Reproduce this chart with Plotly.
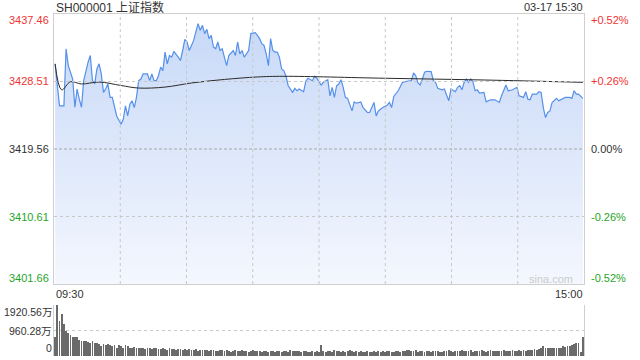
import plotly.graph_objects as go

# ---------------- data ----------------
title_text = "SH000001 上证指数"
date_text = "03-17 15:30"
prev_close = 3419.56
price_ticks = [3401.66, 3410.61, 3419.56, 3428.51, 3437.46]
price_tick_labels = ["3401.66", "3410.61", "3419.56", "3428.51", "3437.46"]
pct_labels = ["-0.52%", "-0.26%", "0.00%", "+0.26%", "+0.52%"]
vol_ticks = [0, 960.28, 1920.56]
vol_labels = ["0", "960.28万", "1920.56万"]
time_labels = ["09:30", "15:00"]
watermark = "sina.com"

price_minutes = [
    0, 2, 4, 5, 6, 8, 9, 10, 11, 12, 13, 14, 15, 16, 17, 18, 19, 20, 21, 22,
    23, 24, 25, 26, 27, 28, 30, 31, 32, 33, 34, 35, 36, 37, 38, 39, 40, 42, 43, 44,
    45, 46, 47, 48, 49, 50, 51, 52, 53, 54, 56, 57, 58, 59, 60, 61, 62, 63, 64, 65,
    66, 67, 68, 69, 70, 71, 72, 73, 74, 75, 76, 77, 78, 79, 81, 82, 83, 84, 85, 86,
    87, 88, 89, 91, 92, 93, 94, 95, 96, 97, 98, 99, 100, 101, 102, 103, 104, 105, 106, 108,
    109, 110, 111, 113, 114, 115, 117, 118, 119, 121, 122, 124, 125, 126, 127, 128, 129, 130, 131, 132,
    133, 135, 136, 137, 139, 140, 142, 143, 145, 146, 147, 149, 151, 152, 153, 154, 156, 157, 158, 160,
    162, 163, 164, 165, 166, 167, 168, 169, 171, 172, 173, 174, 176, 177, 178, 179, 180, 182, 183, 184,
    185, 186, 187, 188, 189, 190, 191, 192, 193, 195, 196, 198, 200, 202, 203, 204, 205, 206, 208, 210,
    211, 213, 214, 215, 216, 217, 219, 220, 221, 222, 223, 224, 225, 226, 228, 229, 231, 232, 234, 235,
    236, 237, 238, 240,
]
price_values = [
    3430.85, 3425.28, 3425.28, 3432.85, 3430.62, 3428.84, 3425.10, 3427.51, 3426.17, 3425.10,
    3428.62, 3429.95, 3431.07, 3431.96, 3428.62, 3428.18, 3430.18, 3430.85, 3429.51, 3427.07,
    3427.51, 3428.18, 3426.40, 3426.40, 3425.06, 3423.94, 3422.83, 3423.50, 3425.28, 3423.94,
    3425.50, 3425.95, 3425.06, 3426.40, 3428.62, 3428.84, 3429.51, 3429.51, 3428.62, 3429.51,
    3428.62, 3428.62, 3429.28, 3430.41, 3429.95, 3432.41, 3430.85, 3431.96, 3431.74, 3432.49,
    3431.74, 3431.29, 3432.62, 3434.09, 3433.75, 3432.62, 3433.29, 3433.96, 3435.08, 3436.19,
    3435.30, 3435.96, 3434.86, 3435.43, 3434.19, 3434.63, 3433.08, 3432.85, 3433.75, 3432.62,
    3432.85, 3431.74, 3430.62, 3431.96, 3432.62, 3431.96, 3433.75, 3432.18, 3432.62, 3431.74,
    3432.18, 3432.62, 3434.86, 3434.99, 3434.63, 3434.19, 3433.52, 3433.29, 3432.18, 3430.62,
    3434.19, 3432.62, 3432.41, 3432.41, 3431.74, 3430.18, 3429.95, 3429.20, 3427.95, 3427.07,
    3427.60, 3427.28, 3427.51, 3427.15, 3428.54, 3428.94, 3428.62, 3429.20, 3428.94, 3428.04,
    3428.40, 3428.75, 3426.61, 3427.74, 3426.40, 3427.95, 3428.18, 3428.75, 3427.74, 3426.40,
    3426.27, 3424.61, 3425.81, 3425.64, 3425.81, 3425.06, 3424.40, 3424.40, 3425.73, 3423.94,
    3424.61, 3425.06, 3425.37, 3425.73, 3425.06, 3426.53, 3427.28, 3427.95, 3428.40, 3428.54,
    3428.62, 3429.65, 3429.28, 3428.31, 3428.04, 3428.84, 3429.74, 3429.87, 3429.82, 3428.62,
    3428.40, 3427.60, 3427.41, 3427.51, 3426.84, 3425.95, 3427.51, 3427.15, 3427.74, 3427.95,
    3427.41, 3428.40, 3428.84, 3428.40, 3428.84, 3428.48, 3427.28, 3427.41, 3426.97, 3427.07,
    3425.81, 3426.08, 3426.08, 3425.73, 3426.61, 3427.28, 3428.04, 3427.28, 3427.41, 3427.74,
    3426.61, 3426.40, 3427.15, 3426.17, 3426.08, 3426.84, 3426.84, 3427.15, 3427.07, 3425.06,
    3423.73, 3424.40, 3424.61, 3425.73, 3426.27, 3425.95, 3426.27, 3426.40, 3426.40, 3426.27,
    3427.28, 3426.84, 3426.84, 3426.27,
]

avg_minutes = [0, 3, 7, 12, 20, 30, 38, 50, 62, 77, 92, 104, 150, 195, 240]
avg_values = [3430.85, 3427.40, 3428.48, 3428.18, 3428.44, 3427.98, 3427.64, 3427.77,
              3428.31, 3428.78, 3429.11, 3429.20, 3428.94, 3428.71, 3428.40]

vol_minutes = list(range(241))
volume = [
    704, 1920.56, 1318, 1575, 1190, 934, 870, 780, 704, 704,
    704, 614, 576, 576, 550, 525, 486, 576, 486, 486,
    448, 358, 448, 422, 448, 422, 358, 397, 320, 422,
    358, 320, 397, 358, 320, 320, 345, 320, 294, 320,
    294, 256, 320, 294, 256, 294, 320, 270, 256, 294,
    256, 230, 294, 270, 256, 230, 256, 270, 230, 256,
    230, 256, 218, 230, 256, 205, 230, 243, 218, 230,
    205, 218, 243, 205, 192, 218, 230, 205, 218, 192,
    166, 205, 218, 192, 205, 230, 179, 192, 166, 205,
    218, 192, 179, 205, 166, 179, 192, 166, 179, 205,
    166, 192, 179, 154, 179, 205, 166, 218, 192, 179,
    192, 205, 166, 192, 179, 154, 166, 192, 154, 179, 166,
    422, 179, 166, 192, 205, 166, 243, 179, 192, 154,
    205, 166, 192, 230, 179, 166, 192, 166, 179, 154,
    166, 179, 166, 154, 192, 166, 179, 154, 205, 166,
    179, 192, 154, 166, 179, 205, 166, 192, 179, 230,
    218, 192, 205, 230, 166, 179, 192, 154, 205, 179,
    166, 192, 205, 179, 154, 166, 192, 179, 218, 192,
    166, 205, 179, 192, 230, 205, 179, 192, 218, 166,
    179, 205, 192, 218, 179, 166, 205, 230, 192, 179,
    192, 205, 179, 218, 192, 205, 179, 218, 192, 205,
    218, 192, 230, 205, 243, 218, 230, 256, 230, 270,
    294, 358, 320, 294, 294, 294, 320, 294, 320, 294,
    358, 345, 358, 384, 422, 448, 473, 480, 154, 704,
]

# ---------------- figure ----------------
W, H = 640, 360
L, R = 54, 584
P_TOP, P_BOT = 14, 284
V_TOP, V_BOT = 305, 356

def px(x):
    return x / W

def py(y):
    return 1 - y / H

FONT = "Liberation Sans, Arial, Helvetica, Noto Sans CJK SC, sans-serif"
RED = "#f03434"
GREEN = "#1fa51f"
DARK = "#333333"
BORDER = "#cfcfcf"

fig = go.Figure()

fig.add_trace(go.Scatter(
    x=price_minutes, y=price_values, mode="lines",
    line=dict(color="#5590ea", width=1.2),
    fill="tozeroy",
    fillgradient=dict(type="vertical",
                      colorscale=[[0, "rgb(244,247,254)"], [1, "rgb(198,216,247)"]],
                      start=price_ticks[0], stop=price_ticks[-1]),
    xaxis="x", yaxis="y", hoverinfo="skip", showlegend=False,
))
fig.add_trace(go.Scatter(
    x=avg_minutes, y=avg_values, mode="lines",
    line=dict(color="#2b2b2b", width=1, shape="spline", smoothing=1.0),
    xaxis="x", yaxis="y", hoverinfo="skip", showlegend=False,
))
fig.add_trace(go.Bar(
    x=vol_minutes, y=volume, width=0.4,
    marker=dict(color="#6a6a6a", line=dict(width=0)),
    xaxis="x2", yaxis="y2", hoverinfo="skip", showlegend=False,
))

axis_common = dict(showgrid=False, zeroline=False, showticklabels=False, ticks="")
fig.update_layout(
    width=W, height=H,
    margin=dict(l=0, r=0, t=0, b=0),
    paper_bgcolor="white", plot_bgcolor="white",
    font=dict(family=FONT, size=11, color=DARK),
    xaxis=dict(domain=[px(L), px(R)], range=[-0.5, 240.5], anchor="y",
               showline=True, mirror=True, linecolor=BORDER, linewidth=1, **axis_common),
    yaxis=dict(domain=[py(P_BOT), py(P_TOP)], range=[price_ticks[0], price_ticks[-1]],
               anchor="x", showline=True, mirror=True, linecolor=BORDER, linewidth=1, **axis_common),
    xaxis2=dict(domain=[px(L), px(R)], range=[-0.5, 240.5], anchor="y2",
                showline=False, **axis_common),
    yaxis2=dict(domain=[py(V_BOT), py(V_TOP)], range=[vol_ticks[0], vol_ticks[-1]],
                anchor="x2", showline=True, mirror=True, linecolor=BORDER, linewidth=1,
                showgrid=True, gridcolor="#c8c8c8", griddash="dot", gridwidth=1,
                tickvals=vol_ticks[1:], zeroline=False, showticklabels=False, ticks=""),
    bargap=0,
)

shapes = []
for k in range(1, 8):
    shapes.append(dict(type="line", xref="x domain", yref="y domain",
                       x0=k / 8, x1=k / 8, y0=0, y1=1,
                       line=dict(color="#c8c8c8", width=1, dash="dot")))
for v in price_ticks[1:-1]:
    is_zero = abs(v - prev_close) < 1e-6
    shapes.append(dict(type="line", xref="x domain", yref="y",
                       x0=0, x1=1, y0=v, y1=v,
                       line=dict(color="#a8a8a8" if is_zero else "#c8c8c8", width=1,
                                 dash="3px,2px" if is_zero else "dot")))
fig.update_layout(shapes=shapes)

ann = []
n = len(price_ticks)
for i, (v, lab, pl) in enumerate(zip(price_ticks, price_tick_labels, pct_labels)):
    if v > prev_close + 1e-6:
        col = RED
    elif v < prev_close - 1e-6:
        col = GREEN
    else:
        col = DARK
    shift = -6 if i == n - 1 else (6 if i == 0 else 0)
    ann.append(dict(x=px(51), xref="paper", xanchor="right", y=v, yref="y",
                    yanchor="middle", yshift=shift, text=lab, showarrow=False,
                    font=dict(color=col, size=11)))
    ann.append(dict(x=px(589), xref="paper", xanchor="left", y=v, yref="y",
                    yanchor="middle", yshift=shift, text=pl, showarrow=False,
                    font=dict(color=col, size=11)))

for i, (v, lab) in enumerate(zip(vol_ticks, vol_labels)):
    shift = -7 if i == len(vol_ticks) - 1 else (8 if i == 0 else 0)
    ann.append(dict(x=px(52.5), xref="paper", xanchor="right", y=v, yref="y2",
                    yanchor="middle", yshift=shift, text=lab, showarrow=False,
                    borderpad=0, font=dict(color=DARK, size=10.5)))

ann.append(dict(x=px(L), xref="paper", xanchor="left", y=py(294), yref="paper",
                yanchor="middle", text=time_labels[0], showarrow=False,
                font=dict(color=DARK, size=11)))
ann.append(dict(x=px(R + 1), xref="paper", xanchor="right", y=py(294), yref="paper",
                yanchor="middle", text=time_labels[1], showarrow=False,
                font=dict(color=DARK, size=11)))
ann.append(dict(x=px(L), xref="paper", xanchor="left", y=py(7), yref="paper",
                yanchor="middle", text=title_text, showarrow=False,
                font=dict(color=DARK, size=12)))
ann.append(dict(x=px(R + 1), xref="paper", xanchor="right", y=py(7), yref="paper",
                yanchor="middle", text=date_text, showarrow=False,
                font=dict(color=DARK, size=11)))
ann.append(dict(x=px(575), xref="paper", xanchor="right", y=py(279), yref="paper",
                yanchor="middle", text=watermark, showarrow=False,
                font=dict(color="#cccccc", size=11)))
fig.update_layout(annotations=ann)

fig.write_html("out.html")
